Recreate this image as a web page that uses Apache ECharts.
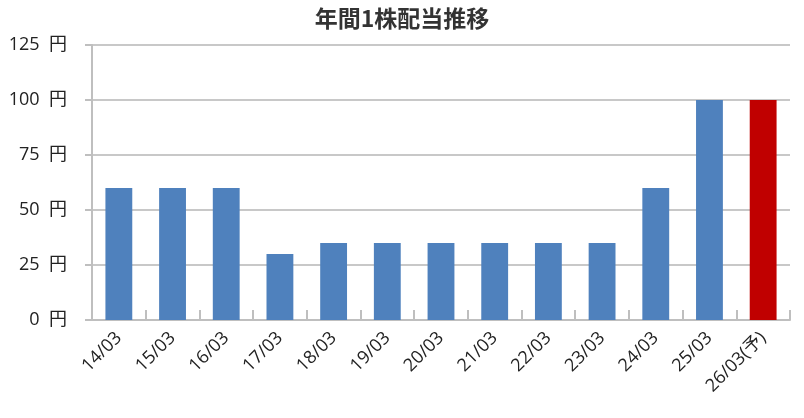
<!DOCTYPE html>
<html><head><meta charset="utf-8">
<script src="https://cdn.jsdelivr.net/npm/echarts@6/dist/echarts.min.js"></script>
<style>html,body{margin:0;padding:0;background:#fff}#c{width:804px;height:418px}</style>
</head><body><div id="c"></div>
<script>
const categories = ['14/03','15/03','16/03','17/03','18/03','19/03','20/03','21/03','22/03','23/03','24/03','25/03','26/03(予)'];
const dividends = [60,60,60,30,35,35,35,35,35,35,60,100,100];
const forecastIndex = 12;
const yTicks = [0,25,50,75,100,125];

const FONT = '"Open Sans", "Noto Sans CJK JP", sans-serif';
const TFONT = '"Noto Sans CJK JP", sans-serif';
const chart = echarts.init(document.getElementById('c'));
chart.setOption({
  animation: false,
  backgroundColor: '#fff',
  title: {
    text: '年間1株配当推移', left: 'center', top: 2,
    textStyle: { fontFamily: TFONT, fontSize: 23, fontWeight: 'bold', color: '#333' }
  },
  grid: { left: 92, right: 14, top: 45, bottom: 98 },
  xAxis: {
    type: 'category', data: categories,
    axisLine: { lineStyle: { color: '#bfbfbf', width: 2 } },
    axisTick: { show: true, inside: true, length: 10, alignWithLabel: false, lineStyle: { color: '#bfbfbf', width: 2 } },
    axisLabel: { rotate: 45, margin: 15, fontFamily: FONT, fontSize: 18, color: '#222', interval: 0 }
  },
  yAxis: {
    type: 'value', min: yTicks[0], max: yTicks[yTicks.length-1], interval: 25,
    axisLine: { show: true, lineStyle: { color: '#bfbfbf', width: 2 } },
    axisTick: { show: true, length: 7, lineStyle: { color: '#bfbfbf', width: 2 } },
    splitLine: { lineStyle: { color: '#c8c8c8', width: 2 } },
    axisLabel: { margin: 25, fontFamily: FONT, fontSize: 18, color: '#222', formatter: v => v + '  円' }
  },
  series: [{
    type: 'bar', barWidth: '50%',
    data: dividends.map((v, i) => ({ value: v, itemStyle: { color: i === forecastIndex ? '#c00000' : '#4f81bd' } }))
  }]
});
</script></body></html>
